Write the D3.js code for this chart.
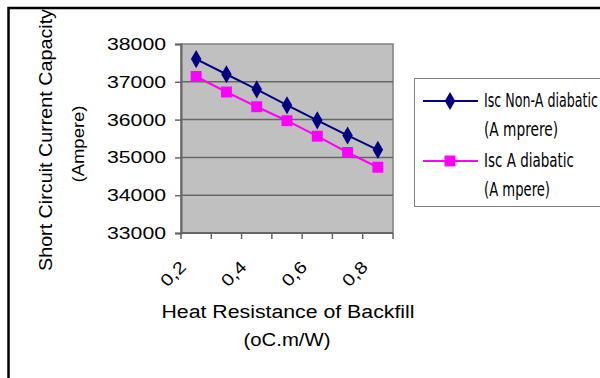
<!DOCTYPE html>
<html>
<head>
<meta charset="utf-8">
<script src="https://cdn.jsdelivr.net/npm/d3@7"></script>
<style>
  html, body { margin: 0; padding: 0; background: #fff; }
  svg { display: block; }
</style>
</head>
<body>
<svg id="chart" width="600" height="378"></svg>
<script>
// Heat resistance of backfill (oC.m/W)
const resistance = [0.2, 0.3, 0.4, 0.5, 0.6, 0.7, 0.8];
// Short circuit current capacity (Ampere)
const iscNonAdiabatic = [37600, 37200, 36800, 36380, 35980, 35580, 35200];
const iscAdiabatic    = [37140, 36730, 36340, 35970, 35560, 35130, 34740];
const yTicks = [33000, 34000, 35000, 36000, 37000, 38000];
const labelledCategories = [0.2, 0.4, 0.6, 0.8];

const seriesNames = [
  ["Isc Non-A diabatic", "(A mprere)"],
  ["Isc A diabatic", "(A mpere)"]
];

const svg = d3.select("#chart");
const sans = "'Liberation Sans', Arial, sans-serif";
const narrow = "'Liberation Sans Narrow', 'DejaVu Sans Condensed', sans-serif";

const plot = { left: 181, right: 393, top: 44, bottom: 233 };

const x = d3.scaleBand().domain(resistance).range([plot.left, plot.right]).paddingInner(0).paddingOuter(0);
const cx = v => x(v) + x.bandwidth() / 2;
const y = d3.scaleLinear().domain([33000, 38000]).range([plot.bottom, plot.top]);

// outer frame
svg.append("rect").attr("x", 8.5).attr("y", 8).attr("width", 620).attr("height", 400)
  .attr("fill", "none").attr("stroke", "#000").attr("stroke-width", 2.5);

// plot area
svg.append("rect")
  .attr("x", plot.left).attr("y", plot.top)
  .attr("width", plot.right - plot.left).attr("height", plot.bottom - plot.top)
  .attr("fill", "#c0c0c0").attr("stroke", "#808080").attr("stroke-width", 1.5);

// gridlines
svg.append("g").selectAll("line").data(yTicks.slice(1, -1)).join("line")
  .attr("x1", plot.left).attr("x2", plot.right)
  .attr("y1", d => y(d)).attr("y2", d => y(d))
  .attr("stroke", "#666").attr("stroke-width", 1.5);

// y axis
const yAxis = svg.append("g").attr("transform", `translate(${plot.left},0)`)
  .call(d3.axisLeft(y).tickValues(yTicks).tickSize(6).tickPadding(9).tickFormat(d3.format("d")));
yAxis.select(".domain").attr("stroke", "#666").attr("stroke-width", 2);
yAxis.selectAll(".tick line").attr("stroke", "#666").attr("stroke-width", 1.5);
yAxis.selectAll(".tick text")
  .attr("font-family", sans).attr("font-size", 17).attr("fill", "#000")
  .attr("textLength", 59).attr("lengthAdjust", "spacingAndGlyphs");

// x axis: ticks at category boundaries
const boundaries = resistance.map(d => x(d)).concat([plot.right]);
const xAxis = svg.append("g");
xAxis.append("line").attr("x1", plot.left).attr("x2", plot.right)
  .attr("y1", plot.bottom).attr("y2", plot.bottom)
  .attr("stroke", "#666").attr("stroke-width", 2);
xAxis.selectAll("line.tick").data(boundaries).join("line").attr("class", "tick")
  .attr("x1", d => d).attr("x2", d => d)
  .attr("y1", plot.bottom).attr("y2", plot.bottom + 6)
  .attr("stroke", "#666").attr("stroke-width", 1.5);
xAxis.selectAll("text").data(labelledCategories).join("text")
  .attr("transform", d => `translate(${cx(d) - 9},${plot.bottom + 35}) rotate(-45)`)
  .attr("text-anchor", "end")
  .attr("font-family", sans).attr("font-size", 17).attr("fill", "#000")
  .attr("textLength", 28).attr("lengthAdjust", "spacingAndGlyphs")
  .text(d => d3.format(".1f")(d).replace(".", ","));

// axis titles
svg.append("text").attr("x", 288).attr("y", 318).attr("text-anchor", "middle")
  .attr("font-family", sans).attr("font-size", 18).attr("fill", "#000")
  .attr("textLength", 253).attr("lengthAdjust", "spacingAndGlyphs")
  .text("Heat Resistance of Backfill");
svg.append("text").attr("x", 287).attr("y", 346).attr("text-anchor", "middle")
  .attr("font-family", sans).attr("font-size", 18).attr("fill", "#000")
  .attr("textLength", 87).attr("lengthAdjust", "spacingAndGlyphs")
  .text("(oC.m/W)");
svg.append("text").attr("transform", "translate(52,140) rotate(-90)").attr("text-anchor", "middle")
  .attr("font-family", sans).attr("font-size", 18).attr("fill", "#000")
  .attr("textLength", 262).attr("lengthAdjust", "spacingAndGlyphs")
  .text("Short Circuit Current Capacity");
svg.append("text").attr("transform", "translate(84,144) rotate(-90)").attr("text-anchor", "middle")
  .attr("font-family", sans).attr("font-size", 17).attr("fill", "#000")
  .attr("textLength", 77).attr("lengthAdjust", "spacingAndGlyphs")
  .text("(Ampere)");

// series
const line = d3.line().x((d, i) => cx(resistance[i])).y(d => y(d));
const series = [
  { values: iscNonAdiabatic, color: "#000080", symbol: d3.symbolDiamond, size: 95 },
  { values: iscAdiabatic,    color: "#ff00ff", symbol: d3.symbolSquare,  size: 120 }
];
series.forEach(s => {
  svg.append("path").datum(s.values).attr("d", line)
    .attr("fill", "none").attr("stroke", s.color).attr("stroke-width", 2);
  svg.append("g").selectAll("path").data(s.values).join("path")
    .attr("transform", (d, i) => `translate(${cx(resistance[i])},${y(d)})`)
    .attr("d", d3.symbol(s.symbol, s.size))
    .attr("fill", s.color);
});

// legend
const legend = svg.append("g");
legend.append("rect").attr("x", 414.5).attr("y", 78.5).attr("width", 220).attr("height", 128)
  .attr("fill", "#fff").attr("stroke", "#808080").attr("stroke-width", 1);
const legendRows = [101, 161];
const baselines = [[107, 136], [167, 196]];
const lengths = [[114, 74], [90, 66]];
series.forEach((s, k) => {
  legend.append("line").attr("x1", 423).attr("x2", 478)
    .attr("y1", legendRows[k]).attr("y2", legendRows[k])
    .attr("stroke", s.color).attr("stroke-width", 2);
  legend.append("path").attr("transform", `translate(450,${legendRows[k]})`)
    .attr("d", d3.symbol(s.symbol, s.size)).attr("fill", s.color);
  seriesNames[k].forEach((t, j) => {
    legend.append("text").attr("x", 484).attr("y", baselines[k][j])
      .attr("font-family", narrow).attr("font-size", 19).attr("fill", "#000")
      .attr("textLength", lengths[k][j]).attr("lengthAdjust", "spacingAndGlyphs")
      .text(t);
  });
});
</script>
</body>
</html>
